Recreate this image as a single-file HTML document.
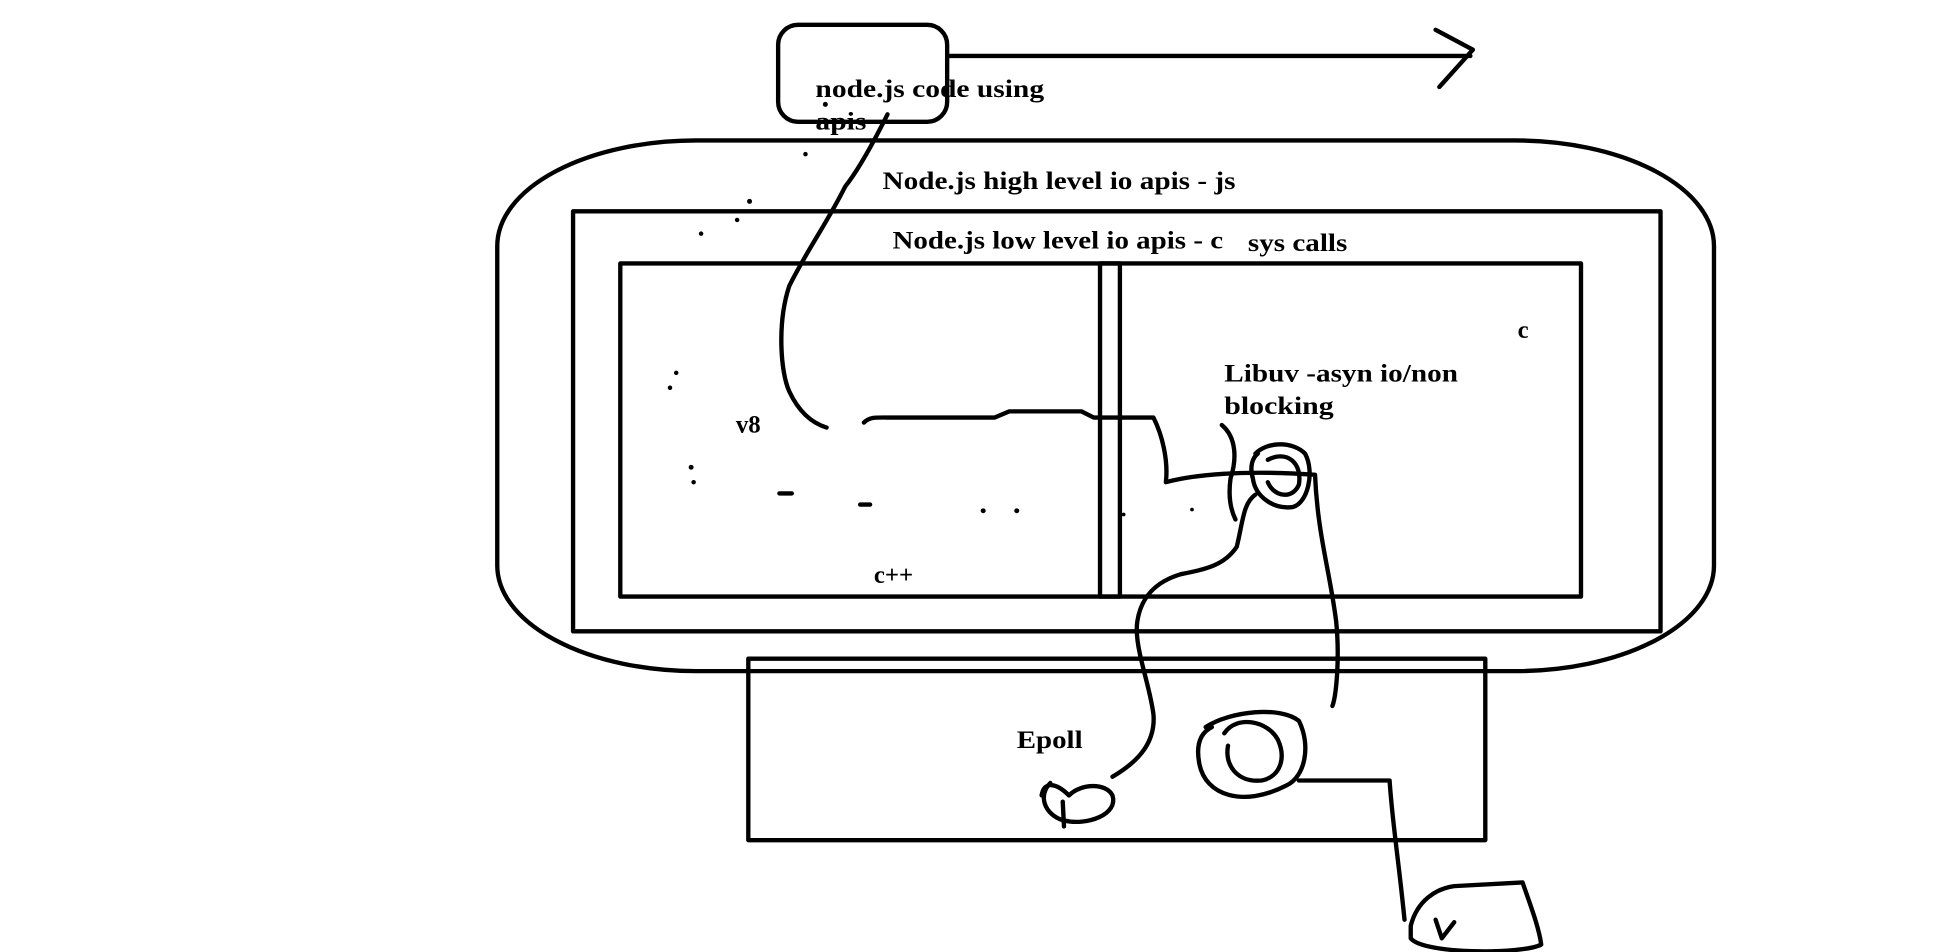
<!DOCTYPE html>
<html><head><meta charset="utf-8"><style>
html,body{margin:0;padding:0;background:#fff;}
svg{display:block;}
text{font-family:"Liberation Serif",serif;font-weight:bold;font-size:20px;fill:#000;}
</style></head><body>
<svg width="1949" height="952" viewBox="0 0 1568 766" xmlns="http://www.w3.org/2000/svg">
<g fill="none" stroke="#000" stroke-width="3.5" stroke-linecap="round" stroke-linejoin="round">
<rect x="626" y="20" width="136" height="78" rx="16"/>
<path d="M764 45 L1183 45"/>
<path d="M1155 24 L1185 40 L1158 70"/>
<rect x="400" y="113" width="979" height="427" rx="160" ry="85"/>
<rect x="461" y="170" width="875" height="338"/>
<rect x="499" y="212" width="773" height="268"/>
<rect x="885" y="212" width="16" height="268"/>
<rect x="602" y="530" width="593" height="146"/>
<path d="M714 92 C705 110 692 135 680 150 C665 180 650 200 635 230 C625 260 628 300 635 315 C642 330 652 340 665 344"/>
<path d="M695 340 C700 335 705 336 720 336 L800 336 L812 331 L870 331 L880 336 L928 336 C935 350 940 370 938 388 C960 382 1000 378 1058 382 C1060 430 1070 460 1075 500 C1078 530 1075 560 1072 568"/>
<path d="M1010 365 C1020 355 1040 355 1050 365 C1058 380 1052 405 1040 408 C1025 410 1010 400 1008 385 C1005 375 1008 368 1012 365"/>
<path d="M1020 370 C1035 362 1048 372 1045 390 C1040 402 1025 400 1020 388"/>
<path d="M983 342 C995 352 995 370 990 385 C988 400 990 410 994 418"/>
<path d="M1010 398 C1000 405 1000 420 995 440 C985 455 970 458 950 462 C930 468 918 480 915 500 C912 520 925 550 928 575 C930 600 912 615 895 625"/>
<path d="M845 630 C835 640 840 655 855 660 C875 665 900 655 895 640 C890 630 870 630 860 640 C850 630 840 628 838 640"/>
<path d="M855 645 L856 665"/>
<path d="M970 585 C990 572 1030 568 1045 580 C1055 600 1050 625 1035 632 C1000 650 970 640 965 615 C962 600 965 590 975 585"/>
<path d="M985 590 C995 575 1020 580 1028 595 C1035 610 1030 625 1015 628 C995 630 985 615 988 600"/>
<path d="M1045 628 L1118 628 C1120 660 1125 690 1130 740"/>
<path d="M1135 745 C1140 725 1155 715 1170 713 L1225 710 C1230 725 1238 745 1240 760 C1225 768 1145 768 1135 755 Z"/>
<path d="M1155 740 L1160 755 L1170 742"/>
<path d="M627 397 L637 397 M692 406 L700 406"/>
</g>
<g fill="#000">
<circle cx="664" cy="84" r="2"/><circle cx="648" cy="124" r="1.8"/><circle cx="603" cy="162" r="2"/>
<circle cx="593" cy="177" r="1.8"/><circle cx="564" cy="188" r="1.8"/><circle cx="544" cy="300" r="1.8"/>
<circle cx="539" cy="312" r="1.8"/><circle cx="556" cy="376" r="2"/><circle cx="558" cy="388" r="1.8"/>
<circle cx="791" cy="411" r="2"/><circle cx="818" cy="411" r="2"/><circle cx="904" cy="414" r="1.5"/>
<circle cx="959" cy="410" r="1.5"/>
</g>
<text x="656" y="78" textLength="184" lengthAdjust="spacingAndGlyphs">node.js code using</text>
<text x="656" y="104" textLength="41" lengthAdjust="spacingAndGlyphs">apis</text>
<text x="710" y="152" textLength="284" lengthAdjust="spacingAndGlyphs">Node.js high level io apis - js</text>
<text x="718" y="200" textLength="266" lengthAdjust="spacingAndGlyphs">Node.js low level io apis - c</text>
<text x="1004" y="202" textLength="80" lengthAdjust="spacingAndGlyphs">sys calls</text>
<text x="1221" y="272">c</text>
<text x="985" y="307" textLength="188" lengthAdjust="spacingAndGlyphs">Libuv -asyn io/non</text>
<text x="985" y="333" textLength="88" lengthAdjust="spacingAndGlyphs">blocking</text>
<text x="592" y="348">v8</text>
<text x="703" y="469">c++</text>
<text x="818" y="602" textLength="53" lengthAdjust="spacingAndGlyphs">Epoll</text>
</svg>
</body></html>
